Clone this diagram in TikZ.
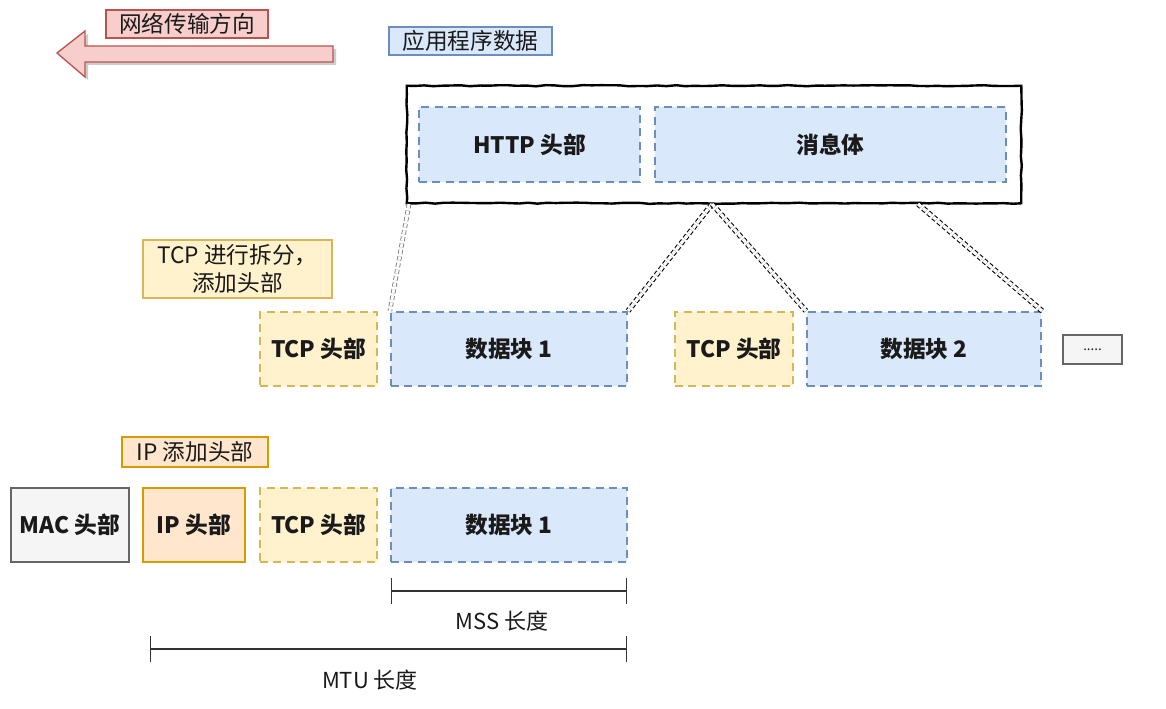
\documentclass[tikz,border=0pt]{standalone}
\usepackage{fontspec}
\setmainfont{Noto Sans CJK SC}
\usetikzlibrary{arrows.meta,calc,decorations.pathmorphing}
\definecolor{redf}{HTML}{F8CECC}\definecolor{redd}{HTML}{B85450}
\definecolor{bluef}{HTML}{DAE8FC}\definecolor{blued}{HTML}{6C8EBF}
\definecolor{yelf}{HTML}{FFF2CC}\definecolor{yeld}{HTML}{D6B656}
\definecolor{orgf}{HTML}{FFE6CC}\definecolor{orgd}{HTML}{D79B00}
\definecolor{grayf}{HTML}{F5F5F5}\definecolor{grayd}{HTML}{666666}
\definecolor{txt}{HTML}{1A1A1A}
\begin{document}
\begin{tikzpicture}[x=0.75pt,y=-0.75pt,
  base/.style={rectangle,inner sep=0pt,text=txt,align=center},
  tag/.style={base,line width=1.1pt,font=\fontsize{17}{20}\selectfont},
  blk/.style={base,font=\bfseries\fontsize{17}{20}\selectfont,minimum height=55.5pt},
  bluebox/.style={blk,fill=bluef,draw=blued,line width=1.6pt,dash pattern=on 6pt off 4pt},
  yelbox/.style={blk,fill=yelf,draw=yeld,line width=1.6pt,dash pattern=on 6pt off 4pt},
  dbl/.style={draw=black,double=white,double distance=2.4pt,line width=0.8pt,dash pattern=on 3pt off 2pt},
  dim/.style={draw=black!80,line width=1.1pt,{Bar[width=19pt]}-{Bar[width=19pt]}},
  dimlab/.style={base,font=\fontsize{16.5}{19}\selectfont}]
\useasboundingbox (0,0) rectangle (1166,709);
\fill[white] (0,0) rectangle (1166,709);
% network direction arrow
\fill[black!20] (60,56) -- (88,34) -- (88,49) -- (336,49) -- (336,65) -- (88,65) -- (88,80) -- cycle;
\draw[fill=redf,draw=redd,line width=1pt] (57,53) -- (85,31) -- (85,46) -- (333,46) -- (333,62) -- (85,62) -- (85,77) -- cycle;
\node[tag,fill=redf,draw=redd,minimum width=121.5pt,minimum height=21pt] (net) at (187,24) {网络传输方向};
\node[tag,fill=bluef,draw=blued,minimum width=122.25pt,minimum height=21pt] (app) at (470.5,41) {应用程序数据};
% application data
\node[base,fill=white,minimum width=460.5pt,minimum height=87.75pt] (big) at (714,144.5) {};
\draw[line width=1.8pt,decorate,decoration={random steps,segment length=7pt,amplitude=0.45pt}] (big.north west) rectangle (big.south east);
\node[bluebox,minimum width=165.75pt,minimum height=56.25pt] (http) at (529.5,144.5) {HTTP 头部};
\node[bluebox,minimum width=263.25pt,minimum height=56.25pt] (body) at (830.5,144.5) {消息体};
% TCP row
\node[tag,fill=yelf,draw=yeld,minimum width=141.75pt,minimum height=43.5pt,font=\fontsize{17}{21}\selectfont] (tcplab) at (237.5,269) {TCP 进行拆分，\\添加头部};
\node[yelbox,minimum width=87.75pt] (tcp1) at (318.5,349) {TCP 头部};
\node[bluebox,minimum width=177pt] (d1) at (509,349) {数据块 1};
\node[yelbox,minimum width=88.5pt] (tcp2) at (734,349) {TCP 头部};
\node[bluebox,minimum width=175.5pt] (d2) at (924,349) {数据块 2};
\node[base,fill=grayf,draw=grayd,line width=1pt,minimum width=44.25pt,minimum height=21.75pt,font=\fontsize{10}{11}\selectfont] (more) at (1092.5,349.5) {.....};
% split lines
\coordinate (s0) at (409,204);
\coordinate (s1) at (712,204);
\coordinate (s2) at (918,204);
\draw[dbl,draw=black!55,double distance=2.2pt,line width=0.6pt] (s0) -- (d1.north west);
\draw[dbl] (s1) -- (d1.north east);
\draw[dbl] (s1) -- (d2.north west);
\draw[dbl] (s2) -- (d2.north east);
% IP row
\node[tag,fill=orgf,draw=orgd,minimum width=109.5pt,minimum height=22.5pt] (iplab) at (195,452) {IP 添加头部};
\node[blk,fill=grayf,draw=grayd,line width=1.8pt,minimum width=88.5pt] (mac) at (70,525) {MAC 头部};
\node[blk,fill=orgf,draw=orgd,line width=1.8pt,minimum width=76.5pt] (ip) at (194,525) {IP 头部};
\node[yelbox,minimum width=87.75pt] (tcp3) at (318.5,525) {TCP 头部};
\node[bluebox,minimum width=177pt] (d3) at (509,525) {数据块 1};
% dimensions
\coordinate (mssA) at (391,591);
\coordinate (mssB) at (627,591);
\coordinate (mtuA) at (150,649);
\coordinate (mtuB) at (627,649);
\draw[dim] (mssA) -- (mssB);
\draw[dim] (mtuA) -- (mtuB);
\node[dimlab] (msslab) at (502,621) {MSS 长度};
\node[dimlab] (mtulab) at (370,680) {MTU 长度};
\end{tikzpicture}
\end{document}
